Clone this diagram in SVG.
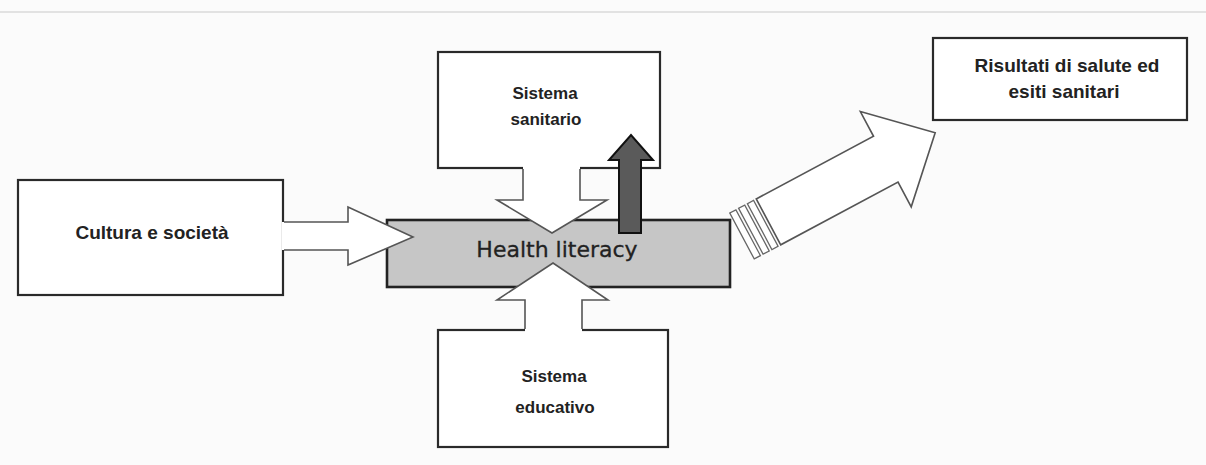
<svg xmlns="http://www.w3.org/2000/svg" width="1206" height="465" viewBox="0 0 1206 465">
<style>
.box{fill:#fff;stroke:#2a2a2a;stroke-width:2.2}
.lbl{font-family:"Liberation Sans",Arial,sans-serif;font-weight:bold;font-size:17px;fill:#222;text-anchor:middle}
.big{font-size:19px}
.afill{fill:#fff;stroke:none}
.aline{fill:none;stroke:#555;stroke-width:1.6;stroke-linejoin:miter}
</style>
<rect width="1206" height="465" fill="#fbfbfb"/>
<line x1="0" y1="12" x2="1206" y2="12" stroke="#e2e2e2" stroke-width="2"/>
<g id="cultura">
<rect class="box" x="18" y="180" width="265" height="115"/>
<text class="lbl big" x="152" y="239">Cultura e società</text>
</g>
<g id="sanitario">
<rect class="box" x="438" y="52" width="222" height="116"/>
<text class="lbl" x="545" y="99">Sistema</text>
<text class="lbl" x="546" y="125">sanitario</text>
</g>
<g id="educativo">
<rect class="box" x="438" y="330" width="230" height="117"/>
<text class="lbl" x="554" y="382">Sistema</text>
<text class="lbl" x="555" y="413">educativo</text>
</g>
<g id="risultati">
<rect class="box" x="933" y="38" width="254" height="82"/>
<text class="lbl big" x="1067" y="72">Risultati di salute ed</text>
<text class="lbl big" x="1064" y="98">esiti sanitari</text>
</g>
<g id="health-literacy">
<rect x="387" y="220" width="343" height="67" fill="#c6c6c6" stroke="#222" stroke-width="2.6"/>
</g>
<g id="connectors">
<polygon class="afill" points="282,222 348,222 348,207 413,237 348,265 348,250 282,250"/>
<polyline class="aline" points="284,222 348,222 348,207 413,237 348,265 348,250 284,250"/>
<polygon class="afill" points="523,166 523,200 497,200 552,233 607,200 580,200 580,166"/>
<polyline class="aline" points="523,169 523,200 497,200 552,233 607,200 580,200 580,169"/>
<polygon class="afill" points="525,332 525,300 497,300 553,263 608,300 582,300 582,332"/>
<polyline class="aline" points="525,329 525,300 497,300 553,263 608,300 582,300 582,329"/>
<polygon points="619,233 619,160 609,160 631,135 653,160 641,160 641,233" fill="#5a5a5a" stroke="#111" stroke-width="2"/>
<g transform="translate(742,236) rotate(-28.1)">
<polygon points="30,-26 163,-26 163,-54 219,0 163,54 163,26 30,26" fill="#fff" stroke="#555" stroke-width="1.6"/>
<rect x="0" y="-26" width="7" height="52" fill="#fff" stroke="#666" stroke-width="1.3"/>
<rect x="10" y="-26" width="7" height="52" fill="#fff" stroke="#666" stroke-width="1.3"/>
<rect x="20" y="-26" width="7" height="52" fill="#fff" stroke="#666" stroke-width="1.3"/>
</g>
</g>
<text x="557" y="257" font-family="DejaVu Sans,Verdana,sans-serif" font-size="22" fill="#222" stroke="#222" stroke-width="0.3" text-anchor="middle">Health literacy</text>
</svg>
